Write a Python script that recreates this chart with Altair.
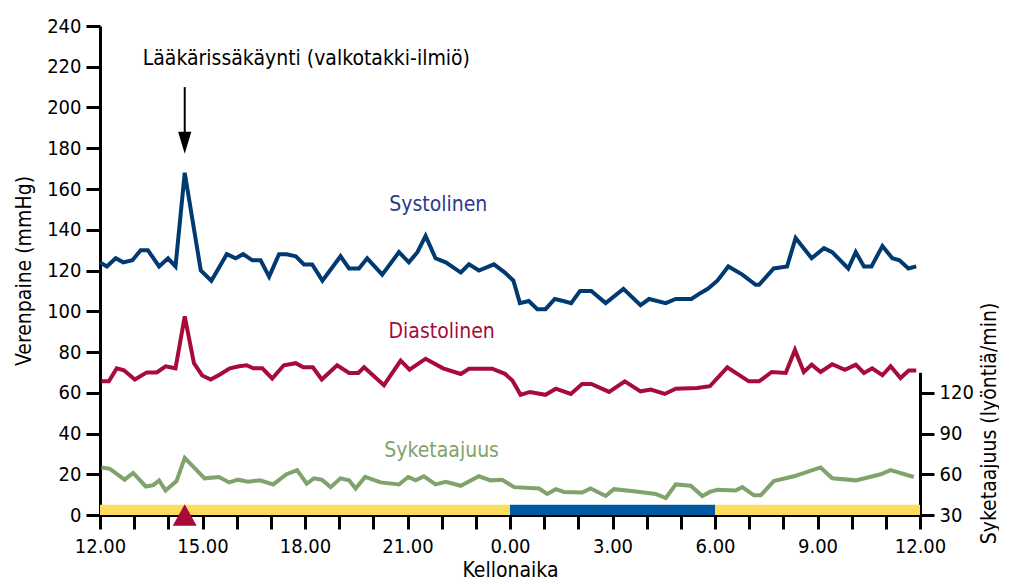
import json
import altair as alt
import pandas as pd

# ---------------- data ----------------
# time = hours after 12.00 (0 -> 12.00, 12 -> 0.00, 24 -> 12.00 next day)
systolic = [(0.0, 124), (0.2, 122), (0.46, 126), (0.68, 124), (0.95, 125), (1.19, 130), (1.40, 130),
            (1.73, 122), (1.99, 126), (2.21, 122), (2.48, 168), (2.95, 120), (3.26, 115), (3.71, 128),
            (3.97, 126), (4.19, 128), (4.46, 125), (4.70, 125), (4.95, 117), (5.24, 128), (5.46, 128),
            (5.73, 127), (5.97, 123), (6.21, 123), (6.51, 115), (7.04, 127), (7.29, 121), (7.58, 121),
            (7.82, 126), (8.26, 118), (8.75, 129), (9.04, 124), (9.29, 129), (9.53, 137), (9.82, 126),
            (10.12, 124), (10.56, 119), (10.80, 123), (11.09, 120), (11.53, 123), (11.85, 119),
            (12.1, 115), (12.29, 104), (12.55, 105), (12.80, 101), (13.04, 101), (13.31, 106),
            (13.56, 105), (13.79, 104), (14.05, 110), (14.38, 110), (14.80, 104), (15.32, 111),
            (15.82, 103), (16.07, 106), (16.56, 104), (16.85, 106), (17.31, 106), (17.58, 109),
            (17.79, 111), (18.07, 115), (18.39, 122), (18.80, 118), (19.19, 113), (19.29, 113),
            (19.72, 121), (20.11, 122), (20.36, 136), (20.83, 126), (21.19, 131), (21.43, 129),
            (21.90, 121), (22.12, 129), (22.36, 122), (22.58, 122), (22.90, 132), (23.19, 126),
            (23.40, 125), (23.66, 121), (23.89, 122)]

diastolic = [(0.04, 65.6), (0.26, 65.6), (0.49, 72), (0.70, 71), (1.02, 66.5), (1.37, 70), (1.66, 70),
             (1.92, 73), (2.21, 72), (2.48, 97.5), (2.75, 74.5), (2.99, 68.5), (3.24, 66.5), (3.51, 69),
             (3.80, 72), (4.07, 73), (4.29, 73.5), (4.49, 72), (4.75, 72), (5.04, 67), (5.38, 73.5),
             (5.73, 74.5), (5.95, 72.5), (6.23, 72.5), (6.49, 66.5), (6.94, 73.5), (7.29, 69.7),
             (7.56, 69.7), (7.73, 72.5), (8.31, 63.7), (8.80, 75.8), (9.06, 71.3), (9.53, 76.7),
             (10.04, 72), (10.56, 69.2), (10.80, 71.8), (11.48, 71.8), (11.85, 69.3), (12.07, 66),
             (12.31, 59), (12.58, 60.4), (13.04, 59), (13.34, 62), (13.78, 59.4), (14.11, 64.3),
             (14.38, 64.3), (14.90, 60.4), (15.36, 65.6), (15.82, 60.7), (16.12, 61.6), (16.53, 59.4),
             (16.85, 62), (17.48, 62.3), (17.85, 63.2), (18.36, 72.5), (18.99, 65.6), (19.29, 65.6),
             (19.66, 70.2), (20.07, 69.7), (20.34, 81), (20.60, 70.2), (20.83, 73.8), (21.09, 70.2),
             (21.43, 74), (21.80, 71.3), (22.12, 73.8), (22.36, 69.7), (22.60, 72), (22.90, 68.6),
             (23.14, 73), (23.43, 67.2), (23.67, 70.9), (23.89, 70.9)]

heart_rate = [(0.04, 65), (0.29, 64), (0.72, 56), (0.97, 61), (1.34, 51), (1.56, 52), (1.73, 55.5),
              (1.92, 48), (2.24, 55), (2.48, 72), (2.75, 65), (3.06, 57), (3.48, 58), (3.78, 54),
              (4.04, 56), (4.33, 54.5), (4.68, 55.5), (5.07, 52.5), (5.46, 60), (5.77, 63), (6.05, 53),
              (6.26, 57), (6.49, 56), (6.75, 50.5), (7.04, 57), (7.29, 55.5), (7.48, 49.5), (7.76, 58),
              (8.21, 54), (8.75, 52.5), (9.02, 58), (9.24, 55.5), (9.48, 58.5), (9.82, 52.5),
              (10.12, 54.5), (10.56, 51.5), (11.09, 58.5), (11.43, 55.5), (11.77, 56), (12.12, 50.5),
              (12.85, 49.5), (13.09, 45.5), (13.34, 49), (13.58, 47), (14.11, 46.5), (14.36, 49.5),
              (14.80, 44), (15.04, 49), (15.63, 47.5), (15.92, 46.5), (16.26, 45.5), (16.56, 42.5),
              (16.85, 52.5), (17.29, 51.5), (17.63, 44), (17.85, 47), (18.07, 48.5), (18.6, 48),
              (18.80, 50.5), (19.14, 44.5), (19.34, 44.5), (19.72, 55), (20.31, 58.5), (21.09, 65),
              (21.43, 57), (22.12, 55.5), (22.85, 60), (23.14, 63), (23.82, 58)]

# day / night periods (hours after 12.00)
period_start = [0, 12, 18]
period_end = [12, 18, 24]
period_kind = ["päivä", "yö", "päivä"]

x_tick_labels = ["12.00", "15.00", "18.00", "21.00", "0.00", "3.00", "6.00", "9.00", "12.00"]
left_ticks = list(range(0, 241, 20))
right_ticks = [30, 60, 90, 120]

visit_time = 2.48
series_labels = [("Systolinen", 9.9, 149), ("Diastolinen", 10.0, 86.8), ("Syketaajuus", 10.0, 28.4)]
visit_text = "Lääkärissäkäynti (valkotakki-ilmiö)"

# ---------------- styles ----------------
W, H = 820, 489
FONT = "DejaVu Sans Condensed, Liberation Sans Narrow, sans-serif"
TXT = 21
LBL = 20
C_SYS = "#003a70"
C_SYS_TXT = "#2b3990"
C_DIA = "#a60b3a"
C_HR = "#7fa36b"
C_DAY = "#fedc5c"
C_NIGHT = "#0058a0"

sys_df = pd.DataFrame(systolic, columns=["t", "v"])
dia_df = pd.DataFrame(diastolic, columns=["t", "v"])
hr_df = pd.DataFrame(heart_rate, columns=["t", "v"])
band_df = pd.DataFrame({"start": period_start, "end": period_end, "kind": period_kind,
                        "y0": 0, "y1": 5})

label_expr = ("datum.value % 3 == 0 ? " + json.dumps(x_tick_labels) +
              "[datum.value / 3] : ''")

xscale = alt.Scale(domain=[0, 24], nice=False, zero=False)
yscale = alt.Scale(domain=[0, 240], nice=False)

x_axis = alt.Axis(values=list(range(0, 25)), labelExpr=label_expr, labelOverlap=False,
                  labelFlush=False, title="Kellonaika", titlePadding=3, labelPadding=7)
X = alt.X("t:Q", scale=xscale, axis=x_axis)

y_axis = alt.Axis(values=left_ticks, title="Verenpaine (mmHg)", titlePadding=12, labelPadding=5)

bands = alt.Chart(band_df).mark_rect().encode(
    x=alt.X("start:Q", scale=xscale, axis=x_axis),
    x2="end:Q",
    y=alt.Y("y0:Q", scale=yscale, axis=y_axis),
    y2="y1:Q",
    color=alt.Color("kind:N", scale=alt.Scale(domain=["päivä", "yö"], range=[C_DAY, C_NIGHT]),
                    legend=None),
)

sys_line = alt.Chart(sys_df).mark_line(color=C_SYS, strokeWidth=4, strokeJoin="miter").encode(
    x=X, y=alt.Y("v:Q", scale=yscale, axis=y_axis))
dia_line = alt.Chart(dia_df).mark_line(color=C_DIA, strokeWidth=4, strokeJoin="miter").encode(
    x=X, y=alt.Y("v:Q", scale=yscale, axis=y_axis))

text_layers = []
for (txt, tt, yy), col in zip(series_labels, [C_SYS_TXT, C_DIA, C_HR]):
    d = pd.DataFrame({"t": [tt], "v": [yy], "label": [txt]})
    text_layers.append(
        alt.Chart(d).mark_text(color=col, font=FONT, fontSize=TXT, baseline="alphabetic",
                               align="center").encode(
            x=X, y=alt.Y("v:Q", scale=yscale, axis=y_axis), text="label:N"))

visit_df = pd.DataFrame({"t": [6.04], "v": [220.7], "label": [visit_text]})
visit_txt = alt.Chart(visit_df).mark_text(color="black", font=FONT, fontSize=TXT,
                                          baseline="alphabetic", align="center").encode(
    x=X, y=alt.Y("v:Q", scale=yscale, axis=y_axis), text="label:N")

arrow_df = pd.DataFrame({"t": [visit_time], "v": [210], "v2": [186], "head": [182.7], "base": [0]})
arrow_shaft = alt.Chart(arrow_df).mark_rule(color="black", strokeWidth=2).encode(
    x=X, y=alt.Y("v:Q", scale=yscale, axis=y_axis), y2="v2:Q")
arrow_head = alt.Chart(arrow_df).mark_point(shape="M-0.6,-1L0.6,-1L0,1Z", filled=True, opacity=1,
                                            color="black", size=484, strokeWidth=0).encode(
    x=X, y=alt.Y("head:Q", scale=yscale, axis=y_axis))
marker = alt.Chart(arrow_df).mark_point(shape="M-1,0.9L1,0.9L0,-0.9Z", filled=True, opacity=1,
                                        color=C_DIA, size=576, strokeWidth=0, clip=False).encode(
    x=X, y=alt.Y("base:Q", scale=yscale, axis=y_axis))

left = alt.layer(bands, sys_line, dia_line, *text_layers, visit_txt, arrow_shaft, arrow_head, marker)

hr_scale = alt.Scale(domain=[30, 135], range=[H, H - H * 70 / 240], nice=False, zero=False)
hr_line = alt.Chart(hr_df).mark_line(color=C_HR, strokeWidth=4, strokeJoin="miter").encode(
    x=X,
    y=alt.Y("v:Q", scale=hr_scale,
            axis=alt.Axis(orient="right", values=right_ticks, title="Syketaajuus (lyöntiä/min)",
                          titleAngle=270, titleBaseline="alphabetic", titleAlign="center",
                          titleX=75, titleY=397, labelPadding=5)),
)

chart = alt.layer(left, hr_line).resolve_scale(y="independent").properties(
    width=W, height=H, padding={"left": 5, "top": 8, "right": 0, "bottom": 0}
).configure_view(stroke=None).configure_axis(
    grid=False, domainColor="black", domainWidth=3, tickColor="black", tickWidth=3, tickSize=14,
    labelFont=FONT, labelFontSize=LBL, labelColor="black", titleFont=FONT, titleFontSize=TXT,
    titleFontWeight="normal", titleColor="black",
)

chart.save("out.html", embed_options={"renderer": "svg", "actions": False})
